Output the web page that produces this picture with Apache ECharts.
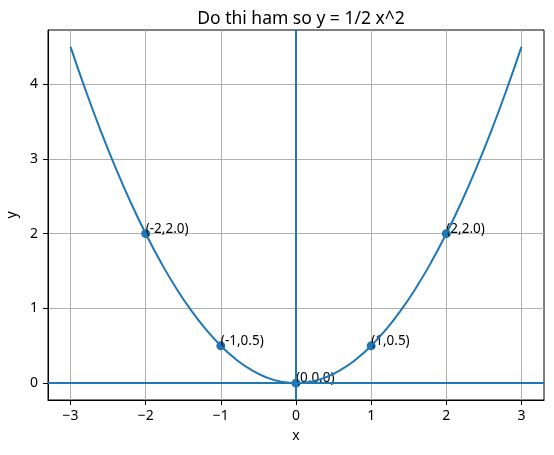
<!DOCTYPE html>
<html>
<head>
<meta charset="utf-8">
<script src="https://cdn.jsdelivr.net/npm/echarts@6/dist/echarts.min.js"></script>
<style>
  html, body { margin: 0; padding: 0; background: #fff; }
  #chart { width: 554px; height: 455px; }
</style>
</head>
<body>
<div id="chart"></div>
<script>
// curve y = 1/2 x^2
const curveX = [-3, -2.8, -2.6, -2.4, -2.2, -2, -1.8, -1.6, -1.4, -1.2, -1, -0.8, -0.6, -0.4, -0.2, 0,
  0.2, 0.4, 0.6, 0.8, 1, 1.2, 1.4, 1.6, 1.8, 2, 2.2, 2.4, 2.6, 2.8, 3]
const curveY = [4.5, 3.92, 3.38, 2.88, 2.42, 2, 1.62, 1.28, 0.98, 0.72, 0.5, 0.32, 0.18, 0.08, 0.02, 0,
  0.02, 0.08, 0.18, 0.32, 0.5, 0.72, 0.98, 1.28, 1.62, 2, 2.42, 2.88, 3.38, 3.92, 4.5]
// marked points
const pointX = [-2, -1, 0, 1, 2]
const pointY = [2.0, 0.5, 0.0, 0.5, 2.0]
const pointLabels = ['(-2,2.0)', '(-1,0.5)', '(0,0.0)', '(1,0.5)', '(2,2.0)']
// ticks
const xTicks = [-3, -2, -1, 0, 1, 2, 3]
const yTicks = [0, 1, 2, 3, 4]

const blue = '#1f77b4'
const font = 'Noto Sans, DejaVu Sans, sans-serif'

const axisCommon = {
  axisLine: { onZero: false, lineStyle: { color: '#000', width: 1 } },
  axisTick: { inside: false, length: 5, lineStyle: { color: '#000', width: 1 } },
  splitLine: { show: true, lineStyle: { color: '#b0b0b0', width: 1 } },
  nameLocation: 'middle',
  nameTextStyle: { color: '#000', fontSize: 14, fontFamily: font }
}

const chart = echarts.init(document.getElementById('chart'))
chart.setOption({
  animation: false,
  title: {
    text: 'Do thi ham so y = 1/2 x^2',
    left: 296,
    textAlign: 'center',
    top: 5,
    textStyle: { color: '#000', fontSize: 17.5, fontWeight: 'normal', fontFamily: font }
  },
  grid: {
    left: 48, right: 10, top: 30, bottom: 55,
    containLabel: false,
    outerBoundsMode: 'none',
    show: true, borderColor: '#000', borderWidth: 1
  },
  xAxis: {
    ...axisCommon,
    type: 'value',
    min: -3.3,
    max: 3.3,
    name: 'x',
    nameGap: 29,
    axisTick: { ...axisCommon.axisTick, customValues: xTicks },
    axisLabel: {
      customValues: xTicks,
      margin: 9,
      color: '#000',
      fontSize: 14,
      fontFamily: font,
      formatter: v => (v < 0 ? '\u2212' + Math.abs(v) : String(v))
    }
  },
  yAxis: {
    ...axisCommon,
    type: 'value',
    min: -0.225,
    max: 4.725,
    name: 'y',
    nameGap: 25,
    axisTick: { ...axisCommon.axisTick, customValues: yTicks },
    axisLabel: {
      customValues: yTicks,
      margin: 10,
      color: '#000',
      fontSize: 14,
      fontFamily: font
    }
  },
  series: [
    {
      type: 'line',
      data: curveX.map((x, i) => [x, curveY[i]]),
      smooth: true,
      symbol: 'none',
      lineStyle: { color: blue, width: 2 },
      z: 3,
      markLine: {
        silent: true,
        symbol: 'none',
        label: { show: false },
        lineStyle: { color: blue, width: 2, type: 'solid' },
        data: [{ xAxis: 0 }, { yAxis: 0 }]
      }
    },
    {
      type: 'scatter',
      data: pointX.map((x, i) => [x, pointY[i]]),
      symbolSize: 9,
      itemStyle: { color: blue, opacity: 1 },
      z: 2,
      label: {
        show: true,
        position: [4.5, 4.5],
        align: 'left',
        verticalAlign: 'middle',
        offset: [0, -5],
        color: '#000',
        fontSize: 13.5,
        fontFamily: font,
        formatter: p => pointLabels[p.dataIndex]
      }
    }
  ]
})
</script>
</body>
</html>
